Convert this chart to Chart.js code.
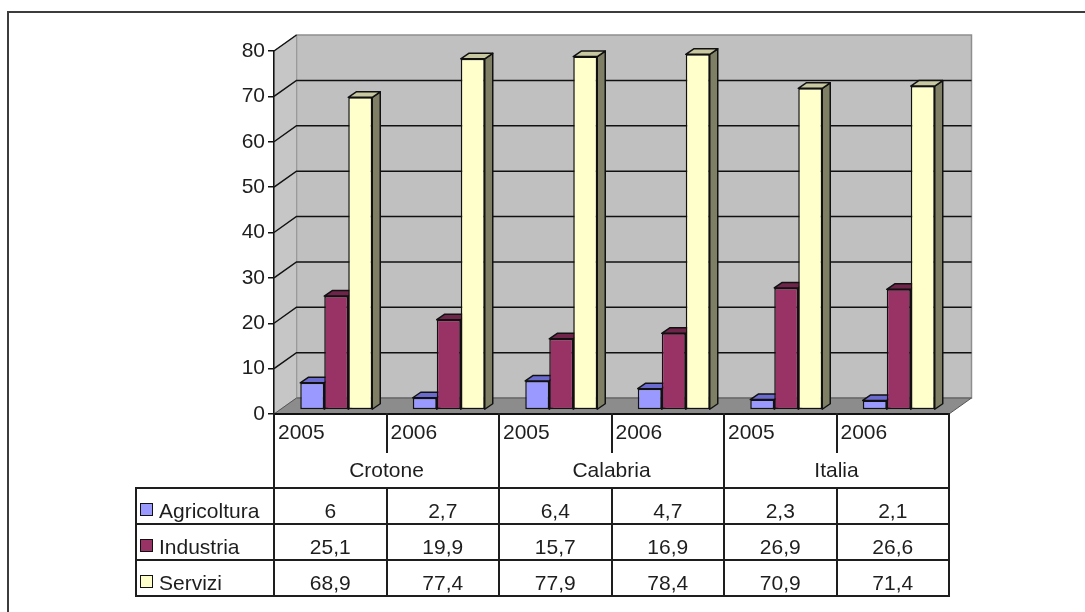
<!DOCTYPE html>
<html><head><meta charset="utf-8">
<script src="https://cdn.jsdelivr.net/npm/chart.js@4.4.1/dist/chart.umd.min.js"></script>
<style>
html,body{margin:0;padding:0;background:#fff;width:1085px;height:612px;overflow:hidden;}
#wrap{position:relative;width:1085px;height:612px;}
canvas{position:absolute;left:0;top:0;}
.frame{position:absolute;left:7px;top:11px;width:1100px;height:640px;border-left:2px solid #3c3c3c;border-top:2px solid #3c3c3c;}
.ln{position:absolute;background:#1e1e1e;}
.tx{position:absolute;font-family:'Liberation Sans',Arial,sans-serif;font-size:21px;line-height:21px;color:#1e1e1e;white-space:nowrap;}
.key{position:absolute;width:11px;height:11px;border:1.5px solid #111;}
</style></head>
<body><div id="wrap"><div class="frame"></div><canvas id="c" width="1085" height="612"></canvas><div id="tbl"></div></div>
<script>
// ---- data ----
const years = ['2005','2006','2005','2006','2005','2006'];
const regions = ['Crotone','Calabria','Italia'];
const seriesNames = ['Agricoltura','Industria','Servizi'];
const agricoltura = [6, 2.7, 6.4, 4.7, 2.3, 2.1];
const industria = [25.1, 19.9, 15.7, 16.9, 26.9, 26.6];
const servizi = [68.9, 77.4, 77.9, 78.4, 70.9, 71.4];
const yTicks = [0,10,20,30,40,50,60,70,80];

const frontColors = ['#9999FF','#993366','#FFFFCC'];
const topColors = ['#6b6bcf','#6e2549','#c9c9a1'];
const sideColors = ['#5a5a99','#5c1f3d','#7f7f66'];

const WALL = {dx: 22.5, dy: -16};
const SHIFT = {dx: 6, dy: -4};
const DEPTH = {dx: 8, dy: -5.5};

function poly(ctx, pts, fill, stroke, lw){
  ctx.beginPath();
  ctx.moveTo(pts[0][0], pts[0][1]);
  for (let i=1;i<pts.length;i++) ctx.lineTo(pts[i][0], pts[i][1]);
  ctx.closePath();
  if (fill){ctx.fillStyle = fill; ctx.fill();}
  if (stroke){ctx.strokeStyle = stroke; ctx.lineWidth = lw||1; ctx.stroke();}
}

const threeD = {
  id: 'threeD',
  beforeDraw(chart){
    const ctx = chart.ctx, a = chart.chartArea, y = chart.scales.y;
    ctx.save();
    // back wall
    poly(ctx, [[a.left+WALL.dx, a.top+WALL.dy],[a.right+WALL.dx, a.top+WALL.dy],[a.right+WALL.dx, a.bottom+WALL.dy],[a.left+WALL.dx, a.bottom+WALL.dy]], '#c0c0c0', '#8e8e8e', 1.5);
    // side wall
    poly(ctx, [[a.left, a.bottom],[a.left, a.top],[a.left+WALL.dx, a.top+WALL.dy],[a.left+WALL.dx, a.bottom+WALL.dy]], '#c6c6c6', '#9a9a9a', 1);
    // grid lines
    ctx.strokeStyle = '#111'; ctx.lineWidth = 1.5;
    yTicks.forEach(v => {
      if (v === 0) return;
      const py = y.getPixelForValue(v);
      ctx.beginPath();
      ctx.moveTo(a.left, py);
      ctx.lineTo(a.left+WALL.dx, py+WALL.dy);
      if (v !== yTicks[yTicks.length-1]) ctx.lineTo(a.right+WALL.dx, py+WALL.dy);
      ctx.stroke();
    });
    // floor
    poly(ctx, [[a.left, a.bottom],[a.right, a.bottom],[a.right+WALL.dx, a.bottom+WALL.dy],[a.left+WALL.dx, a.bottom+WALL.dy]], '#8c8c8c', '#555', 1);
    // floor front edge
    ctx.strokeStyle = '#111'; ctx.lineWidth = 2;
    ctx.beginPath(); ctx.moveTo(a.left, a.bottom); ctx.lineTo(a.right, a.bottom); ctx.stroke();
    ctx.restore();
  },
  beforeDatasetsDraw(chart){
    const ctx = chart.ctx;
    const items = [];
    chart.data.datasets.forEach((ds, di) => {
      chart.getDatasetMeta(di).data.forEach(el => {
        const p = el.getProps(['x','y','base','width'], true);
        items.push({p, di});
      });
    });
    items.sort((m, n) => m.p.x - n.p.x);
    ctx.save();
    ctx.lineJoin = 'round';
    items.forEach(({p, di}) => {
      const l = p.x - p.width/2 + SHIFT.dx, r = p.x + p.width/2 + SHIFT.dx;
      const t = p.y + SHIFT.dy, b = p.base + SHIFT.dy;
      poly(ctx, [[r,t],[r,b],[r+DEPTH.dx,b+DEPTH.dy],[r+DEPTH.dx,t+DEPTH.dy]], sideColors[di], '#111', 1.5);
      poly(ctx, [[l,t],[r,t],[r+DEPTH.dx,t+DEPTH.dy],[l+DEPTH.dx,t+DEPTH.dy]], topColors[di], '#111', 1.5);
    });
    ctx.restore();
    ctx.save();
    ctx.translate(SHIFT.dx, SHIFT.dy);
  },
  afterDatasetsDraw(chart){
    chart.ctx.restore();
  }
};

const chart = new Chart(document.getElementById('c'), {
  type: 'bar',
  data: {
    labels: years,
    datasets: [
      {label: seriesNames[0], data: agricoltura, backgroundColor: frontColors[0]},
      {label: seriesNames[1], data: industria, backgroundColor: frontColors[1]},
      {label: seriesNames[2], data: servizi, backgroundColor: frontColors[2]}
    ]
  },
  options: {
    responsive: false,
    animation: false,
    devicePixelRatio: 1,
    layout: {padding: {left: 0, right: 136, top: 51, bottom: 198}},
    datasets: {bar: {categoryPercentage: 0.64, barPercentage: 1.0, borderColor: '#111', borderWidth: 1.5, borderSkipped: false}},
    plugins: {legend: {display: false}, tooltip: {enabled: false}},
    scales: {
      x: {display: false, offset: true},
      y: {
        min: 0, max: 80,
        afterBuildTicks(s){ s.ticks = yTicks.map(v => ({value: v})); },
        afterFit(s){ s.width = 274; },
        ticks: {color: '#1e1e1e', font: {family: 'Liberation Sans', size: 21}, padding: 3},
        grid: {drawOnChartArea: false, drawTicks: true, tickLength: 6, color: '#111', lineWidth: 1.5},
        border: {display: true, color: '#111', width: 1.5}
      }
    }
  },
  plugins: [threeD]
});

// ---- data table ----
(function(){
  const a = chart.chartArea;
  const tbl = document.getElementById('tbl');
  const n = years.length;
  const colW = (a.right - a.left) / n;
  const headTop = a.bottom, yearBottom = headTop + 38, headBottom = headTop + 74;
  const rowH = 36;
  const rowTops = [headBottom, headBottom + rowH, headBottom + 2*rowH];
  const tableBottom = headBottom + 3*rowH;
  const labelLeft = 136;
  function add(cls, style, text){
    const d = document.createElement('div');
    d.className = cls;
    Object.assign(d.style, style);
    if (text !== undefined) d.textContent = text;
    tbl.appendChild(d);
    return d;
  }
  function h(x1, x2, yy){ add('ln', {left:(x1-1)+'px', top:(yy-1)+'px', width:(x2-x1+2)+'px', height:'2px'}); }
  function v(x, y1, y2){ add('ln', {left:(x-1)+'px', top:(y1-1)+'px', width:'2px', height:(y2-y1+2)+'px'}); }
  [headBottom, rowTops[1], rowTops[2], tableBottom].forEach(yy => h(labelLeft, a.right, yy));
  v(labelLeft, headBottom, tableBottom);
  for (let i = 0; i <= n; i++){
    const x = a.left + i*colW;
    if (i % 2 === 0) v(x, headTop, tableBottom);
    else { v(x, headTop, yearBottom); v(x, headBottom, tableBottom); }
  }
  years.forEach((yr, i) => add('tx', {left:(a.left + i*colW + 4)+'px', top:(headTop + 7)+'px'}, yr));
  regions.forEach((r, i) => add('tx', {left:(a.left + i*2*colW)+'px', width:(2*colW)+'px', textAlign:'center', top:(headTop + 44.5)+'px'}, r));
  const series = [agricoltura, industria, servizi];
  series.forEach((vals, si) => {
    const top = rowTops[si];
    add('key', {left:'140px', top:(top + 15)+'px', background: frontColors[si]});
    add('tx', {left:'159px', top:(top + 12)+'px'}, seriesNames[si]);
    vals.forEach((val, i) => add('tx', {left:(a.left + i*colW)+'px', width:colW+'px', textAlign:'center', top:(top + 12)+'px'}, String(val).replace('.', ',')));
  });
})();
</script>
</body></html>
